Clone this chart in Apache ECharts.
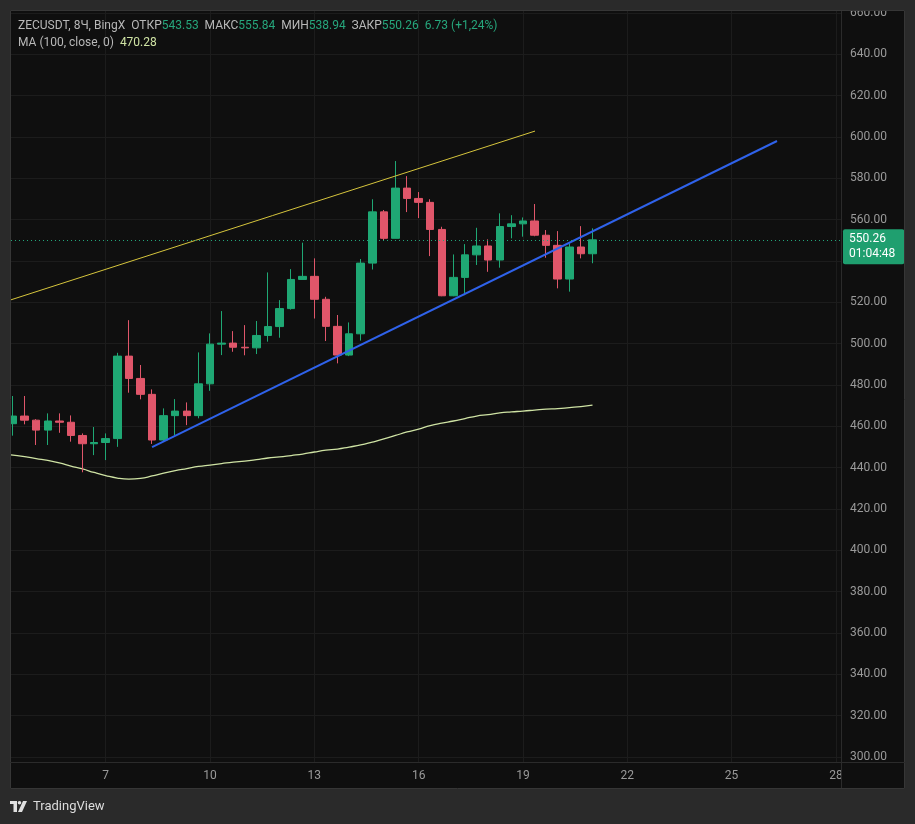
<!DOCTYPE html>
<html>
<head>
<meta charset="utf-8">
<style>
html,body{margin:0;padding:0;background:#2a2a2a;}
#c{width:915px;height:824px;}
</style>
<script src="https://cdn.jsdelivr.net/npm/echarts@6.0.0/dist/echarts.min.js"></script>
</head>
<body>
<div id="c"></div>
<script>
// ---- data (ZECUSDT, 8h candles, BingX) ----
const firstCandleDay = 4 + 8 / 24;   // first visible candle: day 4, 08:00
const candleDays = 8 / 24;           // 8h per candle
const openP = [461.3, 465.0, 463.0, 458.2, 462.6, 462.0, 455.6, 451.6, 452.2, 454.1, 494.0, 483.2, 475.5, 453.4, 465.2, 467.4, 465.2, 480.6, 499.8, 500.3, 498.3, 498.0, 504.0, 508.3, 517.0, 531.1, 532.6, 521.5, 508.4, 494.5, 504.8, 539.0, 563.8, 551.0, 575.3, 570.3, 568.4, 555.3, 523.2, 532.1, 543.0, 547.3, 540.5, 556.7, 558.0, 559.4, 552.5, 547.6, 531.3, 546.8, 543.53];
const closeP = [465.0, 463.0, 458.2, 462.6, 462.0, 455.6, 451.6, 452.2, 454.1, 494.0, 483.2, 475.5, 453.4, 465.2, 467.4, 465.2, 480.6, 499.8, 500.3, 498.3, 498.0, 504.0, 508.3, 517.0, 531.1, 532.6, 521.5, 508.4, 494.5, 504.8, 539.0, 563.8, 551.0, 575.3, 570.3, 568.4, 555.3, 523.2, 532.1, 543.0, 547.3, 540.5, 556.7, 558.0, 559.4, 552.5, 547.6, 531.3, 546.8, 543.53, 550.26];
const highP = [474.7, 474.7, 463.5, 466.3, 466.3, 465.3, 456.6, 459.7, 456.6, 495.6, 511.4, 489.7, 477.9, 468.7, 473.2, 471.6, 495.8, 505.0, 515.8, 506.1, 509.0, 511.0, 534.5, 521.1, 536.1, 548.9, 541.3, 522.7, 513.9, 510.3, 541.0, 569.9, 564.7, 588.4, 581.1, 573.4, 569.9, 556.6, 543.2, 548.2, 556.1, 550.5, 563.1, 562.2, 561.1, 567.6, 555.0, 554.5, 548.5, 556.9, 555.84];
const lowP = [455.5, 461.0, 451.0, 451.0, 456.9, 452.6, 437.8, 446.1, 443.7, 450.1, 476.3, 473.1, 451.5, 452.8, 455.8, 460.6, 463.9, 477.2, 494.5, 496.1, 494.4, 495.0, 501.0, 502.9, 516.5, 531.0, 512.2, 501.3, 490.5, 494.0, 501.5, 535.9, 549.8, 551.0, 563.7, 560.8, 542.4, 523.0, 523.0, 523.5, 538.1, 534.8, 536.8, 551.0, 551.8, 552.0, 541.6, 526.8, 525.2, 541.3, 538.94];
const ma100 = [446.1, 445.4, 444.4, 443.5, 442.3, 440.8, 439.4, 437.7, 436.2, 435.0, 434.5, 434.8, 436.0, 437.4, 438.6, 439.6, 440.6, 441.3, 442.0, 442.7, 443.2, 443.9, 444.7, 445.2, 445.9, 446.6, 447.6, 448.5, 449.0, 450.0, 451.0, 452.4, 453.9, 455.6, 457.3, 458.7, 460.4, 461.6, 462.6, 463.8, 465.0, 465.7, 466.5, 467.0, 467.4, 467.9, 468.4, 468.6, 469.1, 469.6, 470.28];
const maStartDay = 4.27;     // MA value entering from the left edge
const maStartValue = 446.2;
const lastPrice = 550.26;
// trend lines: [day, price]
const yellowLine = [[4.248, 521.1], [19.347, 602.9]];
const blueLine = [[8.333, 450.0], [26.307, 598.1]];
// axis ticks
const dayTicks = [7, 10, 13, 16, 19, 22, 25, 28];
const priceTicks = [300, 320, 340, 360, 380, 400, 420, 440, 460, 480, 500, 520, 540, 560, 580, 600, 620, 640, 660];

const UP = '#1fa874', DOWN = '#e0566a';
const FONT = 'Roboto, "Noto Sans", sans-serif';
const candles = openP.map((o, i) => [firstCandleDay + i * candleDays, o, closeP[i], lowP[i], highP[i]]);
const maData = [[maStartDay, maStartValue]].concat(ma100.map((v, i) => [firstCandleDay + i * candleDays, v]));

const chart = echarts.init(document.getElementById('c'), null, {renderer: 'canvas'});
chart.setOption({
  backgroundColor: '#0f0f0f',
  animation: false,
  grid: {left: 11, top: 11, right: 74, bottom: 62},
  xAxis: {
    type: 'value', min: 4.2763, max: 28.147,
    axisLine: {show: true, lineStyle: {color: '#2b2b2b'}},
    axisTick: {show: false, customValues: dayTicks},
    axisLabel: {customValues: dayTicks, color: '#9a9a9a', fontSize: 12, fontFamily: FONT, margin: 8, formatter: v => String(v)},
    splitLine: {show: true, lineStyle: {color: '#1c1c1c', width: 1}}
  },
  yAxis: {
    type: 'value', position: 'right', min: 297.6, max: 661, scale: true,
    axisLine: {show: true, lineStyle: {color: '#2b2b2b'}},
    axisTick: {show: false, customValues: priceTicks},
    axisLabel: {customValues: priceTicks, color: '#9a9a9a', fontSize: 12, fontFamily: FONT, margin: 9, padding: [4, 0, 0, 0], formatter: v => v.toFixed(2)},
    splitLine: {show: true, lineStyle: {color: '#1c1c1c', width: 1}}
  },
  series: [
    {
      type: 'line', data: maData, showSymbol: false, smooth: true,
      lineStyle: {color: '#cfe3a4', width: 1.3}, z: 1
    },
    {
      type: 'candlestick', data: candles, barWidth: 8,
      encode: {x: 0, y: [1, 2, 3, 4]},
      itemStyle: {color: UP, color0: DOWN, borderColor: UP, borderColor0: DOWN, borderWidth: 1},
      z: 3,
      markLine: {
        silent: true, symbol: ['none', 'none'], animation: false,
        lineStyle: {color: '#22a57a', type: [1, 3], width: 1},
        label: {
          show: true, position: 'end', distance: 2,
          formatter: '550.26\n01:04:48',
          backgroundColor: '#1f9f6f', color: '#ffffff', fontSize: 12, fontFamily: FONT,
          lineHeight: 15, padding: [3, 9, 2, 6], borderRadius: 2, offset: [0, 7]
        },
        data: [{yAxis: lastPrice}]
      }
    },
    {
      type: 'line', data: yellowLine, showSymbol: false,
      lineStyle: {color: '#d6c53d', width: 1}, z: 4
    },
    {
      type: 'line', data: blueLine, showSymbol: false,
      lineStyle: {color: '#2f62ea', width: 2}, z: 4
    }
  ],
  graphic: [
    // frame around the panel
    {type: 'rect', shape: {x: 0, y: 0, width: 915, height: 10}, style: {fill: '#2a2a2a'}, z: 100},
    {type: 'rect', shape: {x: 0, y: 0, width: 10, height: 824}, style: {fill: '#2a2a2a'}, z: 100},
    {type: 'rect', shape: {x: 905, y: 0, width: 10, height: 824}, style: {fill: '#2a2a2a'}, z: 100},
    {type: 'rect', shape: {x: 0, y: 789, width: 915, height: 35}, style: {fill: '#2a2a2a'}, z: 100},
    {type: 'rect', shape: {x: 10.5, y: 10.5, width: 894, height: 778}, style: {fill: null, stroke: '#363636', lineWidth: 1}, z: 101},
    // time axis row on the price scale
    {type: 'rect', shape: {x: 842, y: 763, width: 62, height: 25}, style: {fill: '#0f0f0f'}, z: 100},
    {type: 'line', shape: {x1: 10, y1: 762.5, x2: 905, y2: 762.5}, style: {stroke: '#2b2b2b', lineWidth: 1}, z: 101},
    {type: 'line', shape: {x1: 841.5, y1: 11, x2: 841.5, y2: 788}, style: {stroke: '#2b2b2b', lineWidth: 1}, z: 101},
    // header
    {
      type: 'text', left: 18, top: 20, z: 102,
      style: {
        text: '{t|ZECUSDT, 8Ч, BingX}  {t|ОТКР}{g|543.53}  {t|МАКС}{g|555.84}  {t|МИН}{g|538.94}  {t|ЗАКР}{g|550.26}  {g|6.73 (+1,24%)}',
        font: '12px ' + FONT,
        rich: {t: {fill: '#b8b8b8', fontSize: 12, fontFamily: FONT}, g: {fill: '#26a67c', fontSize: 12, fontFamily: FONT}}
      }
    },
    {
      type: 'text', left: 18, top: 37, z: 102,
      style: {
        text: '{t|MA (100, close, 0)}  {m|470.28}',
        font: '12px ' + FONT,
        rich: {t: {fill: '#b8b8b8', fontSize: 12, fontFamily: FONT}, m: {fill: '#cfe3a4', fontSize: 12, fontFamily: FONT}}
      }
    },
    // TradingView logo
    {type: 'polygon', shape: {points: [[10, 801], [17, 801], [17, 812], [13.5, 812], [13.5, 804], [10, 804]]}, style: {fill: '#e0e0e0'}, z: 102},
    {type: 'circle', shape: {cx: 19.5, cy: 802.8, r: 1.8}, style: {fill: '#e0e0e0'}, z: 102},
    {type: 'polygon', shape: {points: [[23, 801], [27, 801], [22, 812], [18, 812]]}, style: {fill: '#e0e0e0'}, z: 102},
    {type: 'text', left: 33, top: 800, z: 102, style: {text: 'TradingView', font: '13px ' + FONT, fill: '#dcdcdc'}}
  ]
});
</script>
</body>
</html>
